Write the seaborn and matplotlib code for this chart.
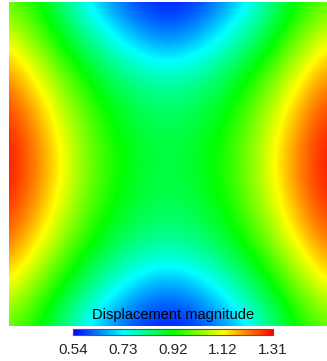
import numpy as np
import matplotlib
matplotlib.use("Agg")
import matplotlib.pyplot as plt
import seaborn as sns

sns.set_style("white")
plt.rcParams["font.family"] = ["Liberation Sans", "DejaVu Sans"]

# Displacement magnitude sampled on a regular 9 x 9 grid over the plate
# (rows top -> bottom, columns left -> right)
row_top    = [1.00, 0.89, 0.71, 0.59, 0.54, 0.59, 0.71, 0.89, 1.00]
row_q1     = [1.13, 0.97, 0.83, 0.71, 0.64, 0.71, 0.83, 0.97, 1.13]
row_q2     = [1.23, 1.08, 0.93, 0.84, 0.80, 0.84, 0.93, 1.08, 1.23]
row_q3     = [1.29, 1.15, 0.99, 0.89, 0.86, 0.89, 0.99, 1.15, 1.29]
row_mid    = [1.31, 1.18, 1.01, 0.91, 0.87, 0.91, 1.01, 1.18, 1.31]
row_q5     = [1.29, 1.15, 0.99, 0.89, 0.86, 0.89, 0.99, 1.15, 1.29]
row_q6     = [1.23, 1.08, 0.93, 0.84, 0.80, 0.84, 0.93, 1.08, 1.23]
row_q7     = [1.13, 0.97, 0.83, 0.71, 0.64, 0.71, 0.83, 0.97, 1.13]
row_bottom = [1.00, 0.89, 0.71, 0.59, 0.54, 0.59, 0.71, 0.89, 1.00]

vmin, vmax = 0.54, 1.31
tick_labels = ["0.54", "0.73", "0.92", "1.12", "1.31"]
title = "Displacement magnitude"

field = np.array([row_top, row_q1, row_q2, row_q3, row_mid,
                  row_q5, row_q6, row_q7, row_bottom])

cmap = sns.blend_palette(["#0000ff", "#00ffff", "#00ff00", "#ffff00", "#ff0000"],
                         n_colors=256, as_cmap=True)

W, H = 327, 361
fig = plt.figure(figsize=(W / 100, H / 100), dpi=100)

ax = fig.add_axes([9 / W, (H - 326) / H, 317 / W, 324 / H])
ny, nx = field.shape
ax.imshow(field, cmap=cmap, vmin=vmin, vmax=vmax, interpolation="bicubic",
          extent=(-0.5, nx - 0.5, ny - 0.5, -0.5), aspect="auto")
ax.set_xlim(0, nx - 1)
ax.set_ylim(ny - 1, 0)
ax.set_axis_off()

cax = fig.add_axes([73 / W, (H - 335) / H, 200 / W, 6 / H])
norm = matplotlib.colors.Normalize(vmin=vmin, vmax=vmax)
cb = fig.colorbar(matplotlib.cm.ScalarMappable(norm=norm, cmap=cmap),
                  cax=cax, orientation="horizontal")
cb.set_ticks(np.linspace(vmin, vmax, len(tick_labels)))
cb.set_ticklabels(tick_labels)
cax.tick_params(axis="x", direction="in", length=3, width=0.8, color="black",
                labelsize=11, pad=6, bottom=True, top=False)
cb.outline.set_edgecolor("#555555")
cb.outline.set_linewidth(0.8)

fig.text((73 + 100) / W, 1 - 315 / H, title, ha="center", va="center",
         fontsize=10.5, color="black")

fig.savefig("out.png", dpi=100)
